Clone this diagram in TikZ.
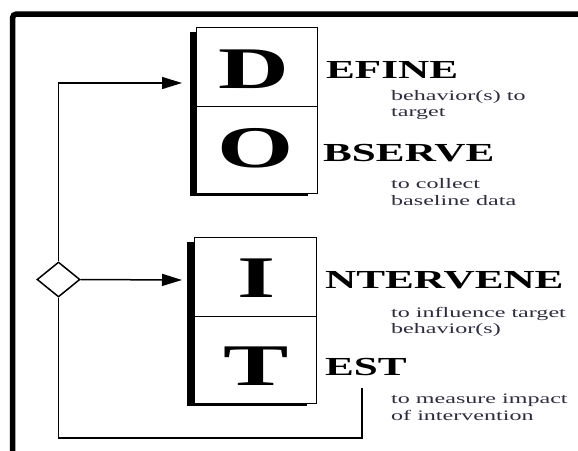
\documentclass[tikz,border=0pt]{standalone}
\usepackage{fontspec}
\setmainfont{Liberation Serif}
\usetikzlibrary{shapes.geometric,arrows.meta}
\definecolor{desccol}{RGB}{45,45,65}
\newcommand\stretchx[1]{\scalebox{1.66}[1]{#1}}
\begin{document}
\begin{tikzpicture}[x=1pt,y=-1pt,
  half/.style={draw=black,line width=0.9pt,fill=white,minimum width=121pt,inner sep=0pt},
  big/.style={inner sep=0pt,anchor=base,font=\fontsize{59}{60}\selectfont\bfseries},
  lab/.style={inner sep=0pt,anchor=base west,font=\fontsize{26}{28}\selectfont\bfseries},
  desc/.style={inner sep=0pt,anchor=base west,font=\fontsize{14.5}{16}\selectfont,text=desccol},
  conn/.style={line width=1.5pt},
  arr/.style={conn,-{Triangle[length=20pt,width=12pt]}}]
\useasboundingbox (0,0) rectangle (578,450);
% outer frame
\draw[line width=5.5pt,rounded corners=4pt] (12.5,452) -- (12.5,14) -- (580,14);
% top block
\fill[black] (190,32) rectangle (308,196);
\node[half,minimum height=79pt] (dbox) at (256.5,66.5) {};
\node[half,minimum height=87pt] (obox) at (256.5,149.5) {};
\node[big] (dl) at (254,88) {\stretchx{D}};
\node[big] (ol) at (256,167) {\stretchx{O}};
% bottom block
\fill[black] (187,242) rectangle (307,406);
\node[half,minimum width=122pt,minimum height=79pt] (ibox) at (255,276.5) {};
\node[half,minimum width=122pt,minimum height=87pt] (tbox) at (255,359.5) {};
\node[big] (il) at (257,297) {\stretchx{I}};
\node[big] (tl) at (256.5,385) {\stretchx{T}};
% labels
\node[lab] (efine) at (326,78) {\stretchx{EFINE}};
\node[desc] (d1) at (391,100) {\stretchx{behavior(s) to}};
\node[desc] (d2) at (391,116) {\stretchx{target}};
\node[lab] (bserve) at (323,161) {\stretchx{BSERVE}};
\node[desc] (o1) at (391,188) {\stretchx{to collect}};
\node[desc] (o2) at (391,205) {\stretchx{baseline data}};
\node[lab] (ntervene) at (325,288) {\stretchx{NTERVENE}};
\node[desc] (i1) at (391,317) {\stretchx{to influence target}};
\node[desc] (i2) at (391,333) {\stretchx{behavior(s)}};
\node[lab] (est) at (325,375) {\stretchx{EST}};
\node[desc] (t1) at (391,403) {\stretchx{to measure impact}};
\node[desc] (t2) at (391,420) {\stretchx{of intervention}};
% decision diamond and connectors
\node[diamond,draw=black,line width=1.5pt,fill=white,minimum width=43pt,minimum height=35pt,inner sep=0pt,aspect=1.23] (dia) at (58.5,279.5) {};
\coordinate (aD) at (182,83);
\coordinate (aI) at (182,280);
\coordinate (tst) at (362,388);
\coordinate (bot) at (0,438);
\draw[arr] (dia.north) |- (aD);
\draw[arr] (dia.east) -- (aI);
\draw[conn] (tst) -- (tst |- bot) -| (dia.south);
\end{tikzpicture}
\end{document}
